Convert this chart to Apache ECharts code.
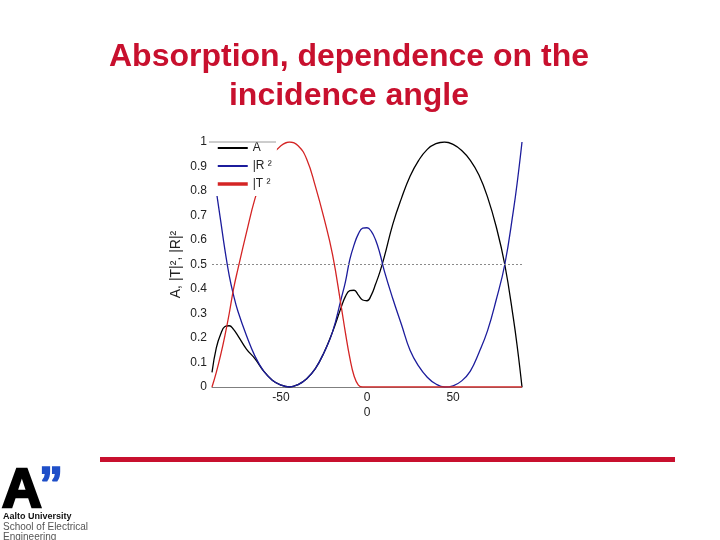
<!DOCTYPE html>
<html>
<head>
<meta charset="utf-8">
<script src="https://cdn.jsdelivr.net/npm/echarts@6/dist/echarts.min.js"></script>
<style>html,body{margin:0;padding:0;background:#fff;}#c{width:720px;height:540px;}</style>
</head>
<body>
<div id="c"></div>
<script>
// Incidence angle (degrees)
var angles = [-90,-87.5,-85,-82.5,-80,-77.5,-75,-70,-65,-60,-55,-50,-45,-40,-35,-30,-25,-20,-15,-12.5,-10,-7.5,-5,-2.5,0,2.5,5,7.5,10,15,20,25,30,35,40,45,50,55,60,65,70,75,80,85,87.5,90];
// A (absorption)
var absorption = [0.06,0.16,0.215,0.247,0.25,0.235,0.21,0.155,0.115,0.065,0.028,0.008,0.0,0.01,0.034,0.075,0.14,0.225,0.325,0.37,0.393,0.395,0.375,0.355,0.352,0.375,0.42,0.47,0.53,0.665,0.77,0.86,0.925,0.97,0.993,1.0,0.99,0.965,0.925,0.865,0.775,0.655,0.5,0.28,0.15,0.0];
// |R|^2 (reflectance)
var reflectance = [0.93,0.8,0.68,0.56,0.455,0.375,0.31,0.21,0.125,0.065,0.028,0.008,0.0,0.01,0.034,0.075,0.14,0.225,0.36,0.43,0.52,0.58,0.625,0.648,0.65,0.635,0.6,0.545,0.475,0.36,0.255,0.15,0.085,0.04,0.012,0.0,0.005,0.025,0.065,0.14,0.23,0.355,0.5,0.72,0.85,1.0];
// |T|^2 (transmittance)
var transmittance = [0,0.06,0.13,0.21,0.3,0.4,0.48,0.63,0.77,0.87,0.945,0.985,1.0,0.985,0.93,0.82,0.69,0.54,0.33,0.22,0.12,0.045,0.008,0,0,0,0,0,0,0,0,0,0,0,0,0,0,0,0,0,0,0,0,0,0,0];
var xTickLabels = {'-50':'-50','0':'0\n0','50':'50'};
var seriesNames = ['A','|R|²','|T|²'];

function pairs(arr){ return angles.map(function(a,i){ return [a, arr[i]]; }); }

var FONT = 'Liberation Sans, Arial, sans-serif';
var crimson = '#c8102e';
var chart = echarts.init(document.getElementById('c'), null, {renderer:'canvas'});
chart.setOption({
  animation:false,
  backgroundColor:'#ffffff',
  title:{
    text:'Absorption, dependence on the\nincidence angle',
    left:349, top:38, padding:0, textAlign:'center',
    textStyle:{color:crimson, fontSize:32, fontWeight:'bold', fontFamily:FONT, lineHeight:39, align:'center'}
  },
  grid:{left:212, right:198, top:142, bottom:153, containLabel:false},
  legend:{
    orient:'vertical', left:207, top:141, padding:[1,5,6,9],
    itemWidth:30, itemHeight:12, itemGap:6,
    backgroundColor:'#ffffff',
    itemStyle:{opacity:0, borderWidth:0},
    textStyle:{fontSize:12, color:'#222', fontFamily:FONT},
    formatter:function(n){ if(n==='A') return 'A'; if(n==='|R|²') return '|R ²'; return '|T ²'; },
    data:[{name:seriesNames[0]},{name:seriesNames[1]},{name:seriesNames[2], lineStyle:{width:3.5}}]
  },
  xAxis:{
    type:'value', min:-90, max:90, interval:10,
    axisLine:{show:true, lineStyle:{color:'#7f7f7f', width:1}},
    axisTick:{show:false}, splitLine:{show:false},
    axisLabel:{margin:3, fontSize:12, color:'#222', fontFamily:FONT, lineHeight:15,
      formatter:function(v){ var k=String(Math.round(v)); return xTickLabels[k]||''; }}
  },
  yAxis:{
    type:'value', min:0, max:1, interval:0.1,
    name:'A, |T|², |R|²', nameLocation:'middle', nameGap:29, nameRotate:90,
    nameTextStyle:{fontSize:14, color:'#222', fontFamily:FONT},
    axisLine:{show:false}, axisTick:{show:false}, splitLine:{show:false},
    axisLabel:{margin:5, fontSize:12, color:'#222', fontFamily:FONT,
      formatter:function(v){ if(v===0) return '0'; if(Math.abs(v-1)<1e-9) return '1'; return v.toFixed(1); }}
  },
  series:[
    {name:seriesNames[0], type:'line', data:pairs(absorption), symbol:'none', smooth:0.45,
     lineStyle:{color:'#000000', width:1.3}, itemStyle:{color:'#000000'},
     markLine:{silent:true, symbol:'none', label:{show:false},
       lineStyle:{color:'#8a8a8a', type:[2,2], width:1}, data:[{yAxis:0.5}]}},
    {name:seriesNames[1], type:'line', data:pairs(reflectance), symbol:'none', smooth:0.45,
     lineStyle:{color:'#1c1c9c', width:1.3}, itemStyle:{color:'#1c1c9c'}},
    {name:seriesNames[2], type:'line', data:pairs(transmittance), symbol:'none', smooth:0.45,
     lineStyle:{color:'#d42424', width:1.3}, itemStyle:{color:'#d42424'}}
  ],
  graphic:[
    {type:'line', z:100, shape:{x1:209,y1:142,x2:276,y2:142}, style:{stroke:'#9a9a9a', lineWidth:1}},
    {type:'rect', shape:{x:100,y:457,width:575,height:5}, style:{fill:crimson}},
    {type:'text', x:2, y:519, style:{text:'A', font:'bold 55px '+FONT, fill:'#000', stroke:'#000', lineWidth:2.5, verticalAlign:'bottom'}},
    {type:'text', x:39, y:463, style:{text:'”', font:'bold 48px '+FONT, fill:'#1f4fc8', stroke:'#1f4fc8', lineWidth:1.5}},
    {type:'text', x:3, y:512, style:{text:'Aalto University', font:'bold 9px '+FONT, fill:'#111'}},
    {type:'text', x:3, y:522, style:{text:'School of Electrical', font:'10px '+FONT, fill:'#555'}},
    {type:'text', x:3, y:532, style:{text:'Engineering', font:'10px '+FONT, fill:'#555'}}
  ]
});
</script>
</body>
</html>
